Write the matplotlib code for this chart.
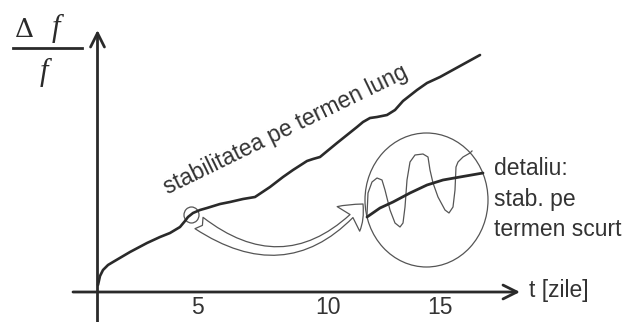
import matplotlib.pyplot as plt
from matplotlib.patches import Ellipse, FancyArrowPatch

# schematic drawn on a 630x322 canvas (x right, y down)
# long term drift of the relative frequency
curve_x = [98, 100, 103, 108, 113, 130, 147, 160, 170, 180, 185, 188, 193, 200, 207,
           220, 230, 243, 255, 270, 283, 293, 307, 313, 320, 337, 357, 363, 370, 377,
           387, 395, 403, 417, 427, 440, 460, 480]
curve_y = [285, 276, 270, 265, 262, 252, 243, 237, 233, 227, 221, 217, 213, 210, 208,
           204, 202, 199, 197, 187, 177, 170, 161, 159, 157, 143, 127, 122, 118, 117,
           115, 110, 101, 90, 83, 77, 66, 55]

# zoomed detail: drift inside the circle
detail_x = [367, 380, 393, 410, 427, 443, 460, 483]
detail_y = [217, 208, 202, 193, 185, 180, 177, 173]

# short term fluctuation inside the circle
osc_x = [367, 368, 372, 377, 382, 385, 390, 395, 400, 403, 405, 407, 410, 415, 423,
         428, 430, 433, 438, 445, 449, 453, 455, 456, 458, 463, 470, 472]
osc_y = [215, 193, 182, 178, 180, 190, 210, 223, 227, 223, 207, 180, 162, 155, 154,
         157, 170, 183, 197, 210, 213, 207, 190, 167, 162, 157, 153, 151]

tick_x = [197, 328, 440]
tick_labels = ["5", "10", "15"]

dark = "#2a2a2a"
thin = "#555555"

fig = plt.figure(figsize=(6.3, 3.22), dpi=100)
ax = fig.add_axes([0, 0, 1, 1])
ax.set_xlim(0, 630)
ax.set_ylim(322, 0)
ax.axis("off")

# axes with arrows
ax.annotate("", xy=(97.5, 30), xytext=(97.5, 322),
            arrowprops=dict(arrowstyle="->,head_length=0.5,head_width=0.25",
                            lw=2.0, color=dark, mutation_scale=20, shrinkA=0, shrinkB=0))
ax.annotate("", xy=(520, 292), xytext=(73, 292),
            arrowprops=dict(arrowstyle="->,head_length=0.5,head_width=0.25",
                            lw=2.0, color=dark, mutation_scale=20, shrinkA=0, shrinkB=0))

ax.plot(curve_x, curve_y, color=dark, lw=1.9, solid_joinstyle="round", solid_capstyle="round")

# small circle on the curve and big detail circle
ax.add_patch(Ellipse((191.5, 215), 15, 16, fill=False, ec=thin, lw=0.9))
ax.add_patch(Ellipse((426.5, 200), 123, 134, fill=False, ec=thin, lw=0.9))
ax.plot(osc_x, osc_y, color=thin, lw=0.9)
ax.plot(detail_x, detail_y, color=dark, lw=2.0, solid_capstyle="round")

# hollow arrow from the small circle to the detail
arr = FancyArrowPatch((199, 223), (363, 204),
                      arrowstyle="fancy,head_length=0.75,head_width=1.2,tail_width=0.5",
                      connectionstyle="arc3,rad=0.45", mutation_scale=20,
                      fc="white", ec=thin, lw=0.9, shrinkA=0, shrinkB=0)
ax.add_patch(arr)

txt = dict(family="Liberation Sans", color="#333333", fontsize=16.5)
for x, lab in zip(tick_x, tick_labels):
    ax.text(x, 308, lab, ha="center", va="center", **txt)
ax.text(529, 290, "t [zile]", ha="left", va="center", **txt)
ax.text(286, 130, "stabilitatea pe termen lung", rotation=26, rotation_mode="anchor",
        ha="center", va="center", **txt)
ax.text(494, 168, "detaliu:", ha="left", va="center", **txt)
ax.text(494, 199, "stab. pe", ha="left", va="center", **txt)
ax.text(494, 229, "termen scurt", ha="left", va="center", **txt)

# y label  Δf / f
ax.text(25, 29, "Δ", family="DejaVu Serif", fontsize=19, color=dark, ha="center", va="center")
ax.text(56, 28, "f", family="Liberation Serif", style="italic", fontsize=22, color=dark,
        ha="center", va="center")
ax.plot([13, 82], [48, 48], color=dark, lw=2.0)
ax.text(44, 72, "f", family="Liberation Serif", style="italic", fontsize=22, color=dark,
        ha="center", va="center")

fig.savefig("out.png", dpi=100)
